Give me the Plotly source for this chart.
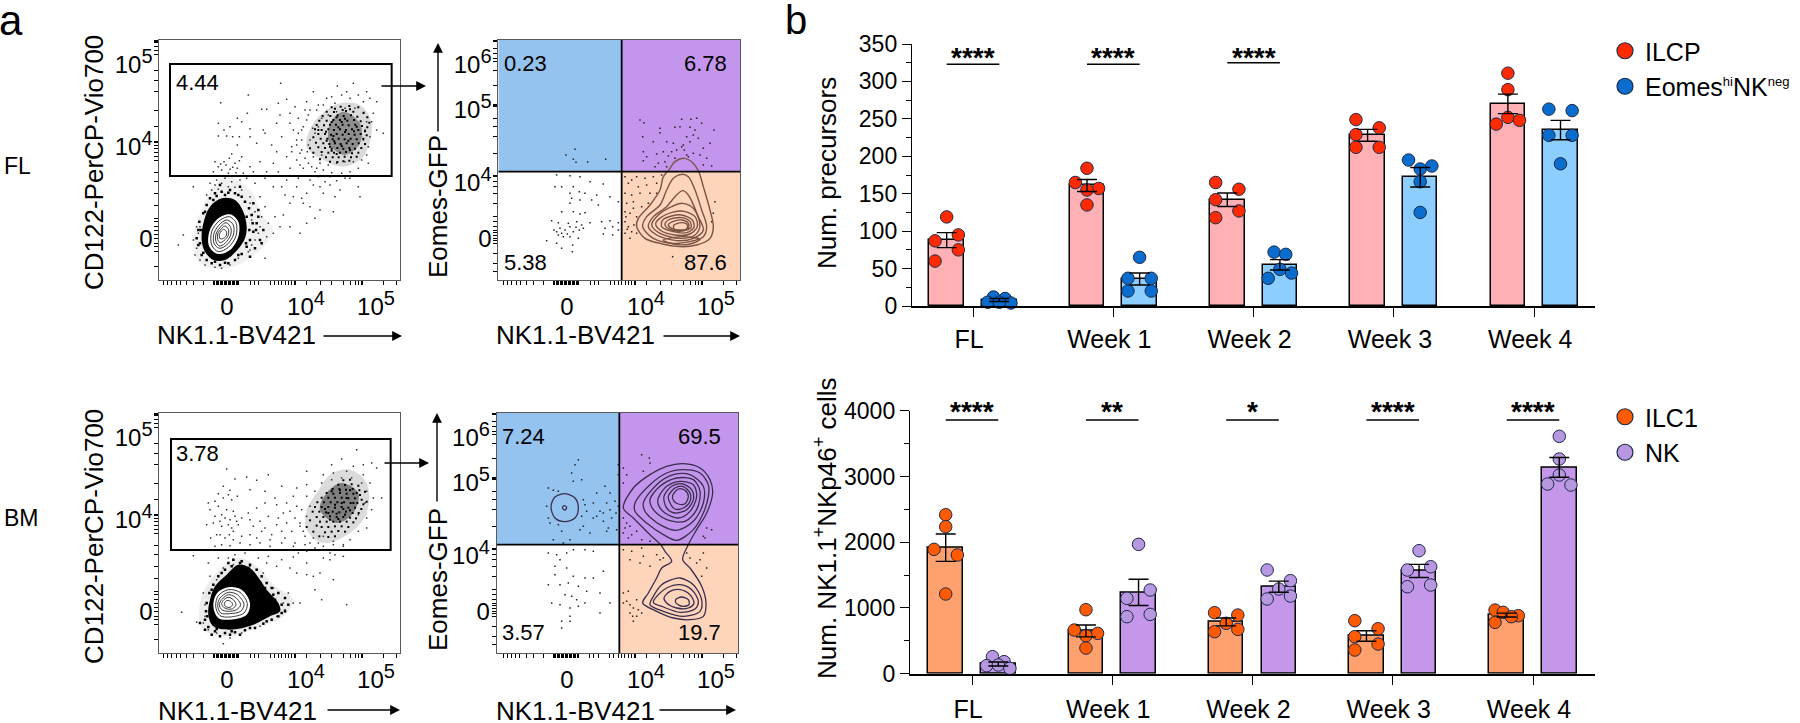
import plotly.graph_objects as go

W, H = 1800, 723
FONT = "Liberation Sans"

# ---- panel b values
groups = ["FL", "Week 1", "Week 2", "Week 3", "Week 4"]

ilcp_points = [[119, 95, 87, 75, 60], [184, 165, 157, 155, 135], [165, 156, 142, 127, 118],
               [249, 238, 229, 212, 212], [311, 289, 252, 248, 243]]
ilcp_slots = [[0, 1, -1, 1, -1], [0, -1, 1, 0, 0], [-1, 1, -1, 1, -1], [-1, 1, -1, 1, -1], [0, 0, 0, 1, -1]]
ilcp_means = [88, 161, 142, 228, 270]
ilcp_sem = [10, 8, 9, 8, 13]

eomes_points = [[12, 10, 5, 4, 5], [65, 37, 37, 20, 20], [72, 69, 49, 44, 37],
                [195, 187, 183, 166, 125], [263, 261, 228, 228, 190]]
eomes_slots = [[-0.5, 0.5, -1, 1, 0], [0, -1, 1, -1, 1], [-0.5, 0.5, 0, 1, -1], [-1, 1, 0, 0, 0], [-1, 1, -1, 1, 0]]
eomes_means = [8, 36, 55, 172, 235]
eomes_sem = [2, 8, 7, 13, 13]

ilc1_points = [[2418, 2236, 1891, 1805, 1212], [973, 664, 613, 578, 390], [928, 892, 766, 639, 674],
               [806, 684, 563, 451, 360], [968, 933, 882, 867, 781]]
ilc1_slots = [[0, 0, -1, 1, 0], [0, -1, 1, 0, 0], [-1, 1, 0, -1, 1], [-1, 1, -1, 1, -1], [-1, -0.3, 1, 0.4, -1]]
ilc1_means = [1916, 650, 787, 573, 892]
ilc1_sem = [208, 90, 60, 80, 30]

nk_points = [[259, 183, 122, 132, 81], [1967, 1273, 1146, 902, 867], [1577, 1415, 1288, 1181, 1136],
             [1871, 1627, 1577, 1349, 1323], [3610, 3265, 3022, 2885, 2870]]
nk_slots = [[-0.5, 0.5, -1, 0, 1], [0, 1, -1, 1, -1], [-1, 1, 0, 1, -1], [0, 1, -1, 1, -1], [0, 0, 0, -1, 1]]
nk_means = [147, 1237, 1323, 1562, 3138]
nk_sem = [30, 200, 85, 100, 150]

sig_top = ["****", "****", "****", "", ""]
sig_bottom = ["****", "**", "*", "****", "****"]

# ---- panel a, in channel units (x and y counted across each dot plot)
x_minor = [40, 52, 65, 78, 90, 110, 130, 160, 190, 194, 198, 202, 206, 210, 214, 218, 222, 226, 230, 234, 238, 242,
           246, 250, 254, 258, 262, 266, 300, 312, 325, 360, 372, 385, 395, 405, 415, 425, 433, 435, 437, 470, 510,
           545, 580, 600, 615, 625, 635, 637, 700, 740]
y_minor_cd122 = [31, 33, 35, 38, 50, 62, 72, 122, 150, 185, 240, 290, 333, 335, 337, 345, 355, 368, 380, 392, 428, 455,
                 490, 525, 565, 575, 590, 600, 612, 625, 640, 650, 665, 710]
y_minor_eomes = [31, 33, 35, 55, 70, 85, 95, 120, 165, 223, 225, 227, 229, 265, 290, 320, 370, 435, 437, 439, 455, 470,
                 490, 520, 560, 575, 590, 600, 608, 616, 624, 632, 640, 670, 700, 725]


def decade(n):
    return f'10<sup><span style="font-size:20px">{n}</span></sup>'


x_label_vals = [231, 468, 678]
x_label_text = ["0", decade(4), decade(5)]
y_label_cd122 = [627, 351, 105]
y_label_cd122_text = ["0", decade(4), decade(5)]
y_label_eomes = [627, 459, 240, 105]
y_label_eomes_text = ["0", decade(4), decade(5), decade(6)]

fl_dots = [(392,160),(295,195),(212,218),(410,208),(385,220),(335,238),(350,238),(292,250),(262,265),(275,275),(205,280),
    (240,290),(222,300),(300,296),(340,300),(380,280),(390,255),(435,230),(420,250),(445,265),(420,280),(205,318),(248,320),
    (268,320),(230,318),(262,345),(300,320),(320,340),(345,310),(365,345),(395,320),(380,365),(425,350),(440,345),(445,310),
    (430,300),(465,240),(490,185),(470,215),(460,290),(455,330),(472,365),(410,380),(370,400),(330,395),(300,410),(275,380),
    (245,372),(238,385),(222,395),(195,395),(205,410),(215,420),(190,425),(255,400),(262,415),(280,430),(235,430),(310,425),
    (350,425),(385,425),(420,415),(450,405),(228,405),(248,412),(268,392),(212,402),(240,418),(258,428),
    (180,460),(200,450),(225,445),(245,455),(270,450),(290,445),(315,460),(345,445),(370,470),(405,495),(430,500),(455,505),
    (490,465),(520,490),(540,465),(555,500),(570,480),(600,445),(625,470),(630,500),(550,545),(510,540),(480,530),(460,520),
    (420,520),(400,555),(375,560),(345,530),(330,500),(300,500),(390,590),(420,590),(470,580),(495,565),(450,610),(370,610),
    (345,685),(300,660),(130,470),(85,645),(100,615),(170,495),(140,590),(130,630),(135,675),(330,590),(350,620),(315,630),
    (195,465),(215,460),(235,470),(255,472),(275,480),(205,478),(185,480),(300,520),(315,545),(335,560),(355,580),(305,570),
    (325,610),(305,645),(295,665),(150,590),(145,610),(140,655),(150,690),(165,705),(195,712),(215,715),(240,705),(265,685),
    (475,255),(500,240),(520,225),(555,220),(575,195),(610,160),(650,185),(680,215),(640,215),(600,205),(562,168),(530,205),
    (670,250),(665,275),(680,300),(700,310),(660,320),(655,350),(650,375),(655,400),(625,415),(600,425),(575,430),(545,428),
    (520,420),(495,425),(475,400),(465,385),(450,370),(490,380),(510,400),(535,405),(560,400),(585,395),(610,395),(635,390),
    (480,330),(495,310),(505,290),(515,265),(535,255),(560,245),(585,235),(615,235),(640,250),(650,275),(645,300),(640,330),
    (470,270),(455,300),(440,330),(425,365),(440,390),(460,415),(485,410),(500,415),(515,375),(475,345),(488,295),(455,360),
    (505,225),(480,240),(545,200),(590,185),(625,195),(660,205),(540,440),(560,452),(585,445),(525,455),(505,440),(480,450),
    (510,470),(470,490),(440,470),(410,450),(395,470),(445,445)]

# the thick NK cloud, black dots over the grey wash
fl_dense = [(545,232),(572,230),(598,228),(625,232),(530,245),(552,246),(588,243),(610,245),(641,248),(518,258),(541,258),
    (563,256),(581,258),(603,256),(622,260),(652,262),(508,272),(530,272),(550,270),(570,270),(592,272),(612,270),(632,274),
    (658,278),(500,285),(522,286),(540,284),(558,284),(578,284),(596,286),(616,284),(636,288),(652,292),(495,298),(515,300),
    (535,298),(552,300),(570,298),(588,300),(606,298),(625,300),(645,304),(505,312),(525,312),(543,314),(560,312),(578,314),
    (596,312),(614,314),(632,312),(650,316),(490,322),(512,326),(532,326),(548,328),(566,326),(584,328),(602,326),(620,328),
    (640,326),(498,338),(520,340),(538,342),(555,340),(572,342),(590,340),(608,342),(626,340),(645,342),(505,352),(525,354),
    (545,356),(562,354),(580,356),(598,354),(615,356),(634,354),(515,366),(535,368),(552,368),(570,368),(588,366),(606,370),
    (625,368),(528,382),(548,382),(566,382),(584,380),(603,382),(540,395),(562,396),(580,394),(598,392),(620,380),(510,388),
    (490,368),(480,355),(555,236),(578,240),(600,238),(560,262),(585,266),(545,276),(565,292),(585,306),(553,334),(575,348),
    (545,362),(530,332),(595,332),(612,304),(528,305),(505,300),(575,276),(620,290),(600,360),(560,372),(540,350),(550,318)]

fl_fringe = [(195,490),(215,485),(235,488),(255,490),(275,500),(285,515),(297,535),(305,555),(308,580),(310,605),(300,630),
    (290,650),(275,672),(255,690),(235,700),(210,705),(185,700),(170,690),(155,675),(145,645),(140,625),(145,600),(148,575),
    (160,550),(170,525),(180,505),(200,498),(225,495),(265,495),(290,560),(298,600),(288,640),(265,675),(225,698),(195,695),
    (160,668),(150,640),(152,600),(165,545),(190,510),(320,580),(325,560),(318,600),(330,630),(340,600),(310,520),(325,540),
    (270,470),(240,480),(210,465),(300,680),(315,655),(335,640)]

fl_eomes_dots = [(255,358),(228,375),(250,388),(258,397),(293,396),(347,388),
    (450,270),(462,278),(510,295),(510,308),(575,268),(603,268),(620,265),(635,280),(600,292),(570,290),(555,292),(672,300),
    (615,300),(610,315),(590,320),(625,325),(458,320),(490,335),(530,335),(550,340),(580,345),(600,335),(660,340),(640,355),
    (560,360),(545,365),(520,365),(500,372),(460,365),(470,380),(535,378),(555,385),(590,375),(610,370),(630,375),(650,385),
    (460,392),(505,400),(525,395),(495,410),(530,410),(640,405),(665,408),(575,350),(583,360),(595,380),
    (200,435),(240,437),(270,440),(300,455),(340,462),(195,470),(215,470),(250,470),(268,485),(240,490),(285,490),(320,495),
    (325,525),(305,510),(360,500),(385,515),(270,510),(240,520),(245,505),(215,545),(250,545),(270,552),(285,548),(185,572),
    (205,578),(235,580),(260,575),(300,578),(335,575),(360,572),(385,578),(192,600),(210,595),(225,600),(240,590),(250,605),
    (268,600),(280,595),(345,595),(368,590),(385,600),(205,615),(220,620),(240,620),(265,625),(340,612),(368,615),(170,632),
    (200,640),(215,655),(247,665),(248,645),(200,605),(215,610),(232,612),(258,592),(275,585),
    (405,440),(425,450),(440,440),(465,445),(490,440),(515,435),(415,460),(445,470),(470,465),(500,460),(405,490),(425,495),
    (450,490),(480,490),(500,490),(410,520),(430,515),(455,530),(475,520),(405,545),(420,550),(440,560),(405,575),(415,590),
    (425,605),(440,610),(405,610),(420,625),(675,515),(670,550),(665,575),(548,680),(412,598),(432,585),(408,560),(430,535)]

bm_dots = [(620,140),(230,198),(355,215),(470,205),(290,222),(320,232),(255,228),(205,272),(240,262),(220,285),(195,295),
    (175,300),(245,290),(262,280),(300,260),(345,265),(375,285),(395,250),(440,255),(470,245),(430,280),(410,300),(380,305),
    (345,300),(320,315),(295,330),(275,345),(255,340),(240,350),(225,345),(210,355),(195,340),(180,320),(170,365),(215,370),
    (245,375),(265,365),(300,350),(330,355),(355,340),(385,345),(410,360),(435,345),(450,370),(425,385),(395,385),(365,395),
    (335,385),(300,395),(275,400),(250,410),(225,405),(200,395),(182,405),(195,430),(215,425),(240,428),(270,420),(300,425),
    (330,420),(360,430),(395,420),(430,430),(465,425),(495,435),(520,430),(550,425),(580,430),
    (130,458),(175,480),(205,465),(235,465),(255,455),(285,450),(325,465),(355,460),(395,470),(430,462),(470,480),(490,520),
    (520,465),(540,470),(555,455),(580,460),(550,530),(510,510),(470,515),(440,510),(420,495),(380,490),(350,480),(180,520),
    (160,570),(95,628),(140,658),(415,570),(430,600),(405,620),(450,600),(495,560),(515,590),(590,605),(175,680),(220,722),
    (240,705),(165,605),(165,640),(160,660),(200,690),(275,690),(330,670),(380,640),(400,600),(370,555),(340,510),(300,490),
    (250,485),(220,495),(200,530),
    (575,168),(545,185),(610,190),(640,185),(665,180),(680,195),(590,205),(550,210),(520,215),(640,215),(660,240),(695,285),
    (670,285),(665,320),(650,345),(650,375),(625,385),(600,410),(580,425),(550,415),(520,400),(490,405),(460,385),(450,360),
    (470,340),(480,310),(470,280),(495,265),(515,240),(545,230),(575,225),(605,225),(635,240),(650,265),(645,300),(625,335),
    (215,335),(230,320),(250,325),(205,310),(190,360),(235,365),(260,355),(220,250),(235,275),(210,395),(238,395),(250,385),
    (310,370),(345,375),(380,365),(400,330),(420,325),(440,310),(455,320),(465,400),(480,420),(505,420),(530,440),(435,420),
    (410,440),(445,450),(540,450),(500,440),(470,445),(405,405),(360,410),(320,405)]

bm_dense = [(580,232),(600,230),(565,245),(585,246),(605,244),(625,248),(548,258),(568,258),(588,260),(608,258),(628,262),
    (645,266),(530,270),(550,272),(570,270),(590,272),(610,272),(630,276),(515,284),(535,284),(555,284),(575,284),(595,286),
    (615,286),(635,290),(650,296),(502,298),(522,298),(542,298),(562,298),(582,298),(602,300),(622,300),(640,304),(495,312),
    (515,312),(535,312),(555,314),(575,312),(595,314),(615,314),(634,318),(488,326),(508,326),(528,328),(548,326),(568,328),
    (588,326),(608,330),(626,330),(500,342),(520,342),(540,340),(560,342),(580,342),(600,344),(618,346),(510,356),(530,356),
    (550,356),(570,356),(590,356),(610,358),(515,372),(535,372),(555,370),(575,370),(595,372),(500,368),(525,388),(545,386),
    (565,384),(585,386),(508,400),(535,402),(555,400),(480,352),(470,372),(490,386),(545,265),(570,262),(590,285),(555,305),
    (580,318),(600,322),(560,332),(540,350),(525,318),(575,300),(620,270),(600,262),(535,330),(565,348),(585,335),(610,300)]

bm_fringe = [(250,470),(275,475),(300,485),(320,500),(335,520),(350,540),(365,555),(385,570),(405,585),(415,605),(405,625),
    (385,640),(365,650),(340,662),(315,675),(285,682),(255,688),(225,690),(195,685),(175,672),(165,650),(168,625),(170,600),
    (178,570),(190,545),(205,520),(225,500),(245,490),(270,480),(295,495),(312,515),(330,540),(345,555),(370,575),(395,605),
    (395,630),(350,655),(300,675),(245,685),(200,678),(172,640),(185,560),(215,510),(235,480),(375,590),(355,610),(385,615),
    (150,660),(165,680),(185,695),(210,700),(240,695),(270,695)]

bm_eomes_dots = [(265,170),(255,185),(245,210),(275,230),(250,235),(175,255),(190,262),(205,265),(345,250),(320,270),(360,270),
    (385,215),(385,185),(280,290),(285,305),(310,300),(350,300),(375,295),(385,310),(360,320),(340,330),(320,340),(290,325),
    (275,340),(280,370),(270,380),(300,390),(355,375),(380,380),(170,310),(175,345),(180,360),(205,365),(215,385),(240,410),
    (190,410),(220,420),(340,355),(350,385),(330,325),(365,345),(378,330),(310,345),
    (455,155),(478,165),(480,180),(400,195),(410,215),(460,205),(400,345),(410,360),(420,370),(440,385),(455,410),(480,415),
    (415,405),(640,400),(665,380),(650,375),(645,405),(400,390),(400,240),(425,395),(405,375),
    (175,450),(200,455),(210,470),(250,440),(285,440),(310,445),(230,450),(195,515),(230,495),(250,520),(285,525),(310,525),
    (340,505),(175,545),(210,545),(235,540),(265,550),(290,565),(330,570),(185,600),(210,605),(240,615),(265,610),(285,600),
    (360,600),(330,630),(240,640),(215,655),(215,675),(240,655),(195,490),(245,580),(225,575),(260,590),
    (400,440),(425,445),(455,435),(460,460),(500,455),(520,465),(420,470),(450,480),(480,490),(640,450),(630,470),(600,465),
    (620,480),(650,495),(635,520),(400,570),(415,565),(400,600),(420,605),(440,590),(420,630),(440,640),(445,620),(430,655),
    (455,630),(510,470),(410,595),(430,615),(428,640),(590,450)]

# dense parts of the dot plots, outlines traced by eye
fl_halo = [(230,440),(300,480),(340,560),(370,600),(320,670),(230,715),(150,700),(130,640),(150,550),(190,470)]
fl_blob = [(215,505),(255,510),(280,545),(290,590),(285,625),(262,660),(225,690),(190,690),(165,665),(155,630),(160,580),(180,530)]
fl_core = [(240,553),(265,575),(265,620),(240,660),(205,672),(178,650),(178,605),(205,565)]
fl_nk_outer = [(570,220),(630,225),(665,280),(640,380),(580,410),(520,390),(470,350),(490,280),(530,240)]
fl_nk_inner = [(580,245),(630,280),(630,340),(585,375),(540,345),(540,280)]
fl_rings = [[(238,560),(258,578),(258,618),(235,652),(205,665),(185,645),(185,605),(208,572)],
    [(232,570),(250,585),(250,615),(230,645),(208,655),(192,640),(192,610),(212,580)],
    [(228,578),(242,592),(242,615),(225,640),(208,648),(198,635),(198,612),(214,588)],
    [(225,588),(235,598),(235,615),(222,632),(210,638),(203,628),(203,612),(215,595)],
    [(222,598),(230,606),(228,618),(218,626),(210,626),(208,614),(214,603)]]

bm_halo = [(265,465),(320,490),(370,545),(430,590),(400,640),(320,675),(230,700),(160,680),(150,600),(190,520)]
bm_blob = [(265,485),(300,495),(330,530),(350,560),(385,600),(390,625),(360,640),(310,665),(240,680),(190,670),(175,635),(180,590),(195,550),(230,515)]
bm_core = [(235,553),(275,560),(300,600),(290,635),(240,650),(205,645),(190,610),(200,572)]
bm_nk_outer = [(540,215),(600,200),(650,240),(650,330),(600,390),(520,420),(470,380),(470,320),(500,270)]
bm_nk_inner = [(575,240),(625,270),(610,330),(560,360),(510,320),(530,270)]
bm_rings = [[(235,560),(270,568),(292,602),(282,630),(240,642),(210,638),(197,610),(205,578)],
    [(235,568),(262,575),(282,604),(272,625),(238,632),(212,630),(203,608),(210,585)],
    [(235,575),(255,582),(272,605),(260,620),(235,625),(215,620),(208,605),(215,590)],
    [(234,583),(250,590),(258,605),(248,617),(232,618),(220,612),(215,602),(222,590)],
    [(234,592),(244,597),(248,605),(240,613),(230,612),(223,605),(226,596)]]

fl_eomes_rings = [[(535,422),(555,395),(583,385),(605,395),(625,422),(640,470),(660,540),(670,590),(660,625),(620,645),(570,650),(510,640),(465,625),(440,590),(445,565),(480,525),(510,480),(520,440)],
    [(575,433),(595,440),(615,480),(635,540),(650,590),(640,620),(600,635),(550,640),(490,625),(458,590),(470,560),(510,525),(530,480),(550,445)],
    [(578,482),(595,495),(625,560),(640,600),(610,625),(560,632),(500,615),(475,590),(490,560),(530,530),(555,500)],
    [(577,520),(610,535),(630,585),(615,615),(570,625),(510,610),(485,585),(505,555),(545,530)],
    [(575,543),(615,560),(622,590),(600,612),(555,615),(510,600),(497,580),(525,555)],
    [(575,555),(607,570),(612,592),(590,608),(550,605),(515,590),(518,570),(545,558)],
    [(575,563),(600,575),(603,593),(575,603),(545,600),(525,585),(535,570)],
    [(575,570),(595,580),(595,595),(570,600),(545,595),(535,585),(548,575)],
    [(575,578),(592,585),(590,597),(570,602),(552,597),(552,585)],
    [(520,630),(580,620),(630,628),(600,642),(550,642)]]

bm_eomes_rings = [[(400,315),(430,255),(480,215),(530,190),(580,182),(630,195),(660,230),(668,270),(650,330),(620,380),(595,425),(578,470),(600,495),(635,550),(648,600),(640,640),(600,650),(550,645),(500,625),(458,600),(475,570),(500,525),(515,495),(545,475),(525,445),(512,425),(480,395),(430,345)],
    [(435,300),(480,245),(530,210),(580,200),(630,210),(655,245),(655,280),(640,330),(610,380),(560,412),(520,395),(470,360),(435,325)],
    [(460,300),(500,245),(550,215),(600,215),(640,250),(640,300),(610,355),(560,382),(510,365),(465,325)],
    [(480,290),(510,250),(560,225),(610,230),(630,265),(620,320),(585,355),(530,350),(490,320)],
    [(505,285),(530,250),(570,235),(610,245),(620,280),(600,325),(565,345),(525,330),(505,305)],
    [(522,280),(545,250),(575,242),(605,260),(610,290),(590,320),(555,330),(530,315)],
    [(535,280),(555,255),(578,250),(600,270),(600,295),(580,315),(555,318),(540,300)],
    [(548,278),(565,258),(585,262),(595,280),(585,302),(565,303),(550,292)],
    [(570,525),(610,545),(635,590),(630,625),(580,640),(520,625),(480,605),(490,580),(515,545),(545,530)],
    [(570,545),(605,560),(625,595),(615,618),(570,628),(520,612),(490,598),(505,575),(530,555)],
    [(570,560),(600,575),(612,600),(595,615),(560,615),(530,600),(522,585),(540,565)],
    [(575,582),(595,590),(597,605),(578,610),(558,600),(557,590)],
    [(225,272),(255,285),(265,315),(255,345),(225,356),(195,345),(183,312),(195,282)],
    [(222,308),(230,313),(225,321),(217,315)]]


def paper_x(px):
    return px / W


def paper_y(px):
    return 1 - px / H


def closed(points):
    return points + [points[0]]


fig = go.Figure()
annotations = []
shapes = []


def add_text(px, py, text, size=25, angle=0, xanchor="center", bold=False):
    annotations.append(dict(x=paper_x(px), y=paper_y(py), xref="paper", yref="paper", text=text, showarrow=False,
                            textangle=angle, xanchor=xanchor, yanchor="middle",
                            font=dict(family=FONT, size=size, color="black", weight="bold" if bold else "normal")))


def add_arrow(x0, y0, x1, y1):
    annotations.append(dict(x=paper_x(x1), y=paper_y(y1), ax=x0 - x1, ay=y0 - y1, xref="paper", yref="paper",
                            axref="pixel", ayref="pixel", text="", showarrow=True, arrowhead=2, arrowsize=1.4,
                            arrowwidth=1.4, arrowcolor="black", standoff=0))


def dots(xa, ya, points, color="black", size=1.5):
    fig.add_trace(go.Scatter(x=[p[0] for p in points], y=[p[1] for p in points], xaxis=xa, yaxis=ya, mode="markers",
                             marker=dict(symbol="square", size=size, color=color, line=dict(width=0)),
                             showlegend=False, hoverinfo="skip"))


def blob(xa, ya, points, color):
    pts = closed(points)
    fig.add_trace(go.Scatter(x=[p[0] for p in pts], y=[p[1] for p in pts], xaxis=xa, yaxis=ya, mode="lines",
                             line=dict(width=0, color=color, shape="spline"), fill="toself", fillcolor=color,
                             showlegend=False, hoverinfo="skip"))


def rings(xa, ya, ring_list, color, width=1.1):
    for ring in ring_list:
        pts = closed(ring)
        fig.add_trace(go.Scatter(x=[p[0] for p in pts], y=[p[1] for p in pts], xaxis=xa, yaxis=ya, mode="lines",
                                 line=dict(width=width, color=color, shape="spline", smoothing=0.9),
                                 showlegend=False, hoverinfo="skip"))


def flow_axes(n, ox, oy, x_lo, x_hi, y_vals, y_text, y_minor):
    left, right = ox + x_lo / 3, ox + x_hi / 3
    top, bottom = oy + 30 / 3, oy + 750 / 3
    base = dict(showgrid=False, zeroline=False, showline=True, linecolor="#5a5a5a", linewidth=1, mirror=True,
                ticks="outside", tickcolor="rgba(0,0,0,0)", tickfont=dict(family=FONT, size=24, color="black"))
    fig.layout[f"xaxis{n}"] = dict(base, domain=[paper_x(left), paper_x(right)], range=[x_lo, x_hi], anchor=f"y{n}",
                                   tickmode="array", tickvals=x_label_vals, ticktext=x_label_text, ticklen=3,
                                   ticklabelstandoff=2, tickangle=0,
                                   minor=dict(tickmode="array", tickvals=x_minor, ticks="outside", ticklen=4, tickwidth=1,
                                              tickcolor="black"))
    fig.layout[f"yaxis{n}"] = dict(base, domain=[paper_y(bottom), paper_y(top)], range=[750, 30], anchor=f"x{n}",
                                   tickmode="array", tickvals=y_vals, ticktext=y_text, ticklen=1, ticklabelstandoff=0,
                                   minor=dict(tickmode="array", tickvals=y_minor, ticks="outside", ticklen=4, tickwidth=1,
                                              tickcolor="black"))


def rect(n, x0, y0, x1, y1, fill=None, line="black", width=2):
    shapes.append(dict(type="rect", xref=f"x{n}", yref=f"y{n}", x0=x0, y0=y0, x1=x1, y1=y1, fillcolor=fill,
                       line=dict(color=line, width=width), layer="below" if fill else "above"))


def quadrants(n, x_lo, x_hi, qx):
    rect(n, x_lo, 30, qx, 425, "#94c3ef", "rgba(0,0,0,0)", 0)
    rect(n, qx, 30, x_hi, 425, "#c495ec", "rgba(0,0,0,0)", 0)
    rect(n, qx, 425, x_hi, 750, "#fed4bb", "rgba(0,0,0,0)", 0)
    for x0, y0, x1, y1 in [(qx, 30, qx, 750), (x_lo, 425, x_hi, 425)]:
        shapes.append(dict(type="line", xref=f"x{n}", yref=f"y{n}", x0=x0, y0=y0, x1=x1, y1=y1,
                           line=dict(color="black", width=1.8)))


flow_axes(1, 150, 30, 28, 750, y_label_cd122, y_label_cd122_text, y_minor_cd122)
flow_axes(2, 490, 30, 25, 750, y_label_eomes, y_label_eomes_text, y_minor_eomes)
flow_axes(3, 150, 403, 28, 750, y_label_cd122, y_label_cd122_text, y_minor_cd122)
flow_axes(4, 490, 403, 20, 745, y_label_eomes, y_label_eomes_text, y_minor_eomes)

# FL dot plot
blob("x1", "y1", fl_halo, "rgba(0,0,0,0.06)")
blob("x1", "y1", fl_nk_outer, "rgba(0,0,0,0.14)")
blob("x1", "y1", fl_nk_inner, "rgba(0,0,0,0.35)")
dots("x1", "y1", fl_dots, "#333333")
dots("x1", "y1", fl_dense, "black", 2)
dots("x1", "y1", fl_fringe, "black", 2.5)
blob("x1", "y1", fl_blob, "black")
blob("x1", "y1", fl_core, "white")
rings("x1", "y1", fl_rings, "#222222", 0.9)
rect(1, 60, 102, 725, 438)

# FL Eomes plot
quadrants(2, 25, 750, 395)
dots("x2", "y2", fl_eomes_dots, "#222222")
rings("x2", "y2", fl_eomes_rings, "#7a5545", 1.4)

# BM dot plot
blob("x3", "y3", bm_halo, "rgba(0,0,0,0.08)")
blob("x3", "y3", bm_nk_outer, "rgba(0,0,0,0.14)")
blob("x3", "y3", bm_nk_inner, "rgba(0,0,0,0.42)")
dots("x3", "y3", bm_dots, "#333333")
dots("x3", "y3", bm_dense, "black", 2)
dots("x3", "y3", bm_fringe, "black", 2.5)
blob("x3", "y3", bm_blob, "black")
blob("x3", "y3", bm_core, "white")
rings("x3", "y3", bm_rings, "#222222", 0.9)
rect(3, 63, 108, 722, 441)

# BM Eomes plot
quadrants(4, 20, 745, 388)
dots("x4", "y4", bm_eomes_dots, "#222222")
rings("x4", "y4", bm_eomes_rings, "#3a2f4f", 1.3)

# ---- panel b bars
BAR_SHIFT = 0.1875
BAR_WIDTH = 0.246
SWARM = 0.083


def bar_series(xa, ya, side, points, slots, means, sem, fill, dot, name, legend):
    centres = [i + side * BAR_SHIFT for i in range(len(groups))]
    fig.add_trace(go.Bar(x=centres, y=means, width=BAR_WIDTH, xaxis=xa, yaxis=ya, marker=dict(color=fill, line=dict(color="black", width=1.5)),
                         showlegend=False, hoverinfo="skip"))
    xs, ys = [], []
    for c, vals, sl in zip(centres, points, slots):
        for v, s in zip(vals, sl):
            xs.append(c + s * SWARM)
            ys.append(v)
    fig.add_trace(go.Scatter(x=xs, y=ys, xaxis=xa, yaxis=ya, mode="markers", cliponaxis=False,
                             marker=dict(size=12.5, color=dot, line=dict(color="#1c2a4a", width=1)), showlegend=False))
    fig.add_trace(go.Scatter(x=centres, y=means, xaxis=xa, yaxis=ya, mode="markers", marker=dict(size=1, color="black"),
                             error_y=dict(type="data", array=sem, color="black", thickness=1.4, width=10),
                             showlegend=False, hoverinfo="skip"))
    # legend entry only
    fig.add_trace(go.Scatter(x=[None], y=[None], xaxis=xa, yaxis=ya, mode="markers", name=name, legend=legend,
                             marker=dict(size=16, color=dot, line=dict(color="#1c2a4a", width=1.2))))


def sig_marks(xa, ya, labels, line_vals, star_y):
    n = xa[1:]
    for i, lab in enumerate(labels):
        if lab:
            fig.add_trace(go.Scatter(x=[i - BAR_SHIFT, i + BAR_SHIFT], y=[line_vals[i]] * 2, xaxis=xa, yaxis=ya, mode="lines",
                                     line=dict(color="black", width=1.6), showlegend=False, hoverinfo="skip"))
            annotations.append(dict(x=i, y=star_y, xref=f"x{n}", yref=f"y{n}", text=lab, showarrow=False,
                                    font=dict(family=FONT, size=28, color="black", weight="bold")))


bar_series("x5", "y5", -1, ilcp_points, ilcp_slots, ilcp_means, ilcp_sem, "#ffb0b4", "#ff2a00", "ILCP", "legend")
bar_series("x5", "y5", 1, eomes_points, eomes_slots, eomes_means, eomes_sem, "#8bceff", "#0a6ccc",
           'Eomes<sup><span style="font-size:13px">hi</span></sup>NK<sup><span style="font-size:13px">neg</span></sup>', "legend")
bar_series("x6", "y6", -1, ilc1_points, ilc1_slots, ilc1_means, ilc1_sem, "#ffa06f", "#ff5a00", "ILC1", "legend2")
bar_series("x6", "y6", 1, nk_points, nk_slots, nk_means, nk_sem, "#c497ea", "#b797df", "NK", "legend2")
sig_marks("x5", "y5", sig_top, [323, 323, 325, 323, 323], 332)
sig_marks("x6", "y6", sig_bottom, [3858] * 5, 3990)


def bar_axes(n, left, top, bottom, first_tick, step, ymax, major, minor, standoff):
    right = 1595
    fig.layout[f"xaxis{n}"] = dict(domain=[paper_x(left), paper_x(right)], anchor=f"y{n}",
                                   range=[(left - first_tick) / step, (right - first_tick) / step],
                                   tickmode="array", tickvals=list(range(len(groups))), ticktext=groups, showgrid=False,
                                   zeroline=False, showline=True, linecolor="black", linewidth=1.8, ticks="outside",
                                   ticklen=9, tickwidth=1.4, tickcolor="black", ticklabelstandoff=standoff, ticklabelshift=-4,
                                   tickfont=dict(family=FONT, size=25, color="black"))
    fig.layout[f"yaxis{n}"] = dict(domain=[paper_y(bottom), paper_y(top)], anchor=f"x{n}", range=[0, ymax], dtick=major,
                                   tick0=0, showgrid=False, zeroline=False, showline=True, linecolor="black", linewidth=1.4,
                                   ticks="outside", ticklen=9, tickwidth=1.4, tickcolor="black",
                                   minor=dict(dtick=minor, ticks="outside", ticklen=5, tickwidth=1.2, tickcolor="black"),
                                   tickfont=dict(family=FONT, size=23, color="black"))


bar_axes(5, 912, 44, 306, 973, 140.3, 350, 50, 25, 1)
bar_axes(6, 910, 410.7, 673.7, 972, 140.25, 4000, 1000, 500, 3)

# ---- free text
add_text(11, 20, "a", 42)
add_text(796, 20, "b", 40)
add_text(17, 166, "FL", 23)
add_text(21, 518, "BM", 23)

add_text(94, 163, "CD122-PerCP-Vio700", 26, -90)
add_text(94, 537, "CD122-PerCP-Vio700", 26, -90)
add_text(438, 207, "Eomes-GFP", 26, -90)
add_text(438, 580, "Eomes-GFP", 26, -90)
add_text(236, 335, "NK1.1-BV421", 26)
add_text(575, 335, "NK1.1-BV421", 26)
add_text(238, 711, "NK1.1-BV421", 26)
add_text(575, 711, "NK1.1-BV421", 26)
add_arrow(322, 336, 402, 336)
add_arrow(662, 336, 740, 336)
add_arrow(326, 710, 400, 710)
add_arrow(658, 710, 736, 710)
add_arrow(438, 133, 438, 43)
add_arrow(437, 503, 437, 413)
add_arrow(380, 86, 426, 86)
add_arrow(383, 463, 429, 463)

add_text(827, 173, "Num. precursors", 26, -90)
add_text(825, 528, "Num. NK1.1<sup>+</sup>NKp46<sup>+</sup> cells", 26, -90)

# gate frequencies
add_text(174, 82, "4.44", 22, xanchor="left")
add_text(174, 453, "3.78", 22, xanchor="left")
add_text(502, 63, "0.23", 22, xanchor="left")
add_text(729, 63, "6.78", 22, xanchor="right")
add_text(502, 262, "5.38", 22, xanchor="left")
add_text(729, 262, "87.6", 22, xanchor="right")
add_text(500, 436, "7.24", 22, xanchor="left")
add_text(723, 436, "69.5", 22, xanchor="right")
add_text(500, 632, "3.57", 22, xanchor="left")
add_text(723, 632, "19.7", 22, xanchor="right")

legend_style = dict(font=dict(family=FONT, size=25, color="black"), bgcolor="rgba(0,0,0,0)", xanchor="left", yanchor="top",
                    itemsizing="trace", tracegroupgap=0, itemwidth=30)
fig.update_layout(
    width=W, height=H, margin=dict(l=0, r=0, t=0, b=0, autoexpand=False), paper_bgcolor="white", plot_bgcolor="rgba(0,0,0,0)",
    barmode="overlay", bargap=0, annotations=annotations, shapes=shapes,
    legend=dict(legend_style, x=paper_x(1605), y=paper_y(28)),
    legend2=dict(legend_style, x=paper_x(1605), y=paper_y(394)),
)

fig.write_html("out.html", post_script="document.body.style.margin='0';", config=dict(displayModeBar=False))
